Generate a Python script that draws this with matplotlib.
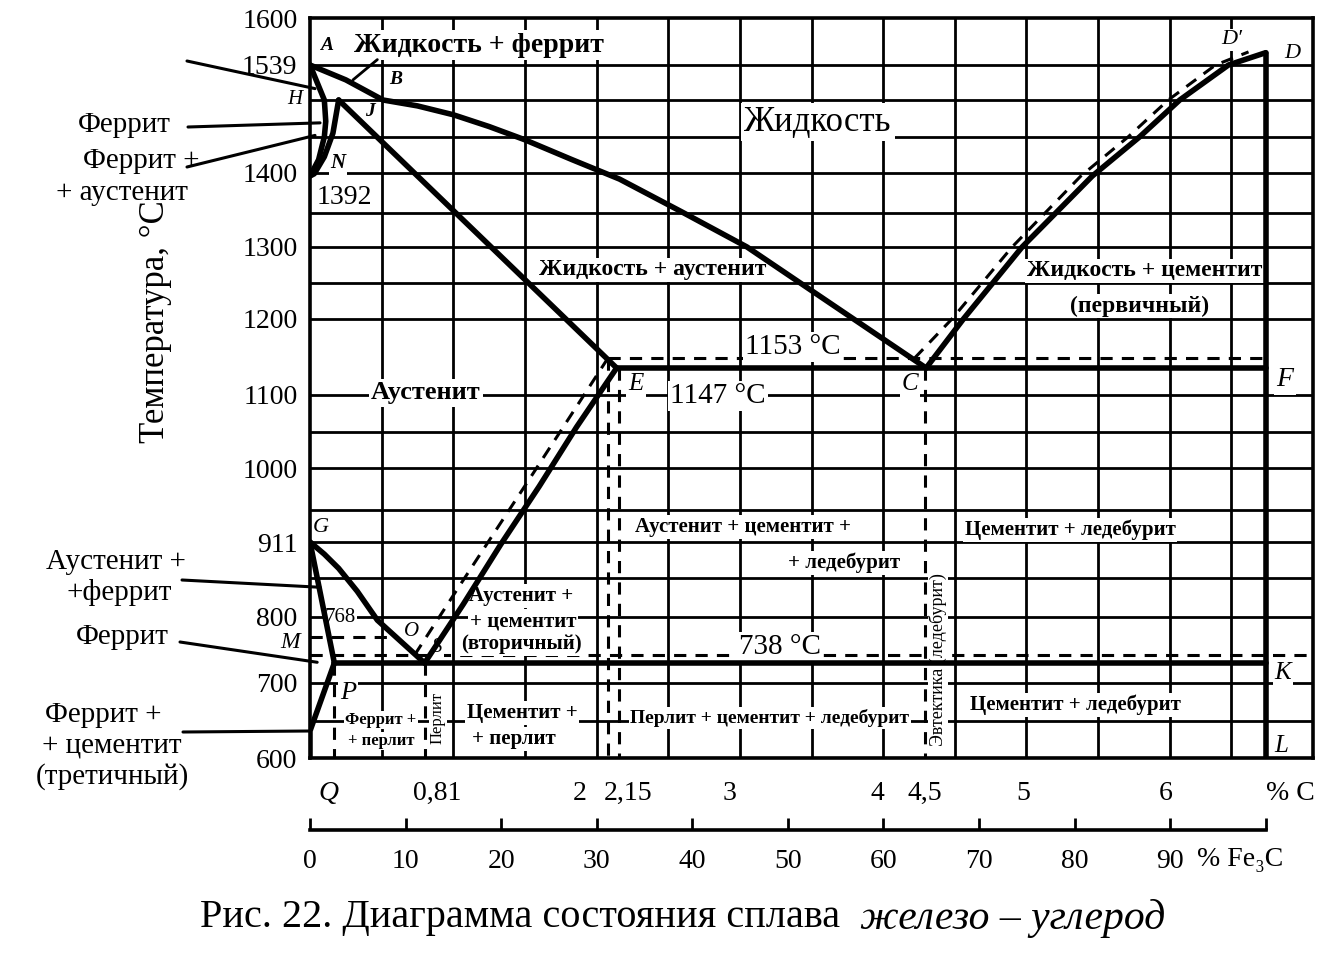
import numpy as np
import matplotlib.pyplot as plt

plt.rcParams['font.family'] = ['Liberation Serif', 'DejaVu Serif']

# drawn height of each labelled temperature (the grid is not uniform)
t_knots = [600, 700, 727, 738, 768, 800, 911, 1000, 1100, 1147, 1153, 1200,
           1300, 1392, 1400, 1499, 1539, 1600]
h_knots = [0, 75, 95, 103, 121, 141, 216, 290, 363, 390, 400, 439,
           511, 582, 585, 658, 693, 740]

y_ticks = [600, 700, 800, 911, 1000, 1100, 1200, 1300, 1400, 1539, 1600]
y_tick_labels = ['600', '700', '800', '911', '1000', '1100', '1200', '1300',
                 '1400', '1539', '1600']

grid_t = [650, 700, 800, 858, 911, 950, 1000, 1050, 1100, 1200, 1250, 1300,
          1344, 1400, 1449, 1499, 1539]
grid_c = [0.5, 1.0, 1.5, 2.0, 2.5, 3.0, 3.5, 4.0, 4.5, 5.0, 5.5, 6.0, 6.43]

# phase boundaries (%C, T)
abc_c = [0, 0.25, 0.51, 0.75, 1.0, 1.25, 1.5, 1.83, 2.16, 2.6, 3.05, 4.3]
abc_t = [1539, 1522, 1499, 1491, 1479, 1463, 1445, 1418, 1388, 1345, 1300, 1147]
cd_c = [4.3, 4.56, 4.97, 5.46, 5.79, 6.07, 6.41, 6.67]
cd_t = [1147, 1200, 1300, 1392, 1449, 1499, 1539, 1555]
cd2_c = [4.22, 4.48, 4.9, 5.38, 5.71, 5.99, 6.32, 6.55]
cd2_t = [1153, 1200, 1300, 1392, 1449, 1499, 1539, 1556]
ahn_c = [0, 0.06, 0.1, 0.11, 0.1, 0.06, 0]
ahn_t = [1539, 1515, 1499, 1470, 1449, 1418, 1392]
jn_c = [0.2, 0.16, 0.1, 0.03, 0]
jn_t = [1499, 1454, 1422, 1398, 1392]
je_c = [0.2, 2.14]
je_t = [1499, 1147]
ecf_c = [2.14, 6.67]
ecf_t = [1147, 1147]
es_c = [2.14, 1.86, 1.6, 1.33, 1.07, 0.8]
es_t = [1147, 1056, 978, 907, 819, 727]
es2_c = [2.08, 1.81, 1.54, 1.27, 1.0, 0.73]
es2_t = [1153, 1069, 989, 918, 832, 738]
gos_c = [0, 0.1, 0.2, 0.33, 0.47, 0.8]
gos_t = [911, 893, 872, 838, 795, 727]
gp_c = [0, 0.17]
gp_t = [911, 727]
pq_c = [0.17, 0, 0]
pq_t = [727, 636, 600]
psk_c = [0.17, 6.67]
psk_t = [727, 727]
dl_c = [6.67, 6.67]
dl_t = [1555, 600]

# dashed lines
h_dash = [(2.08, 6.67, 1153), (0, 7.0, 738), (0, 0.58, 768)]
v_dash = [(0.17, 727), (0.8, 727), (2.08, 1153), (2.16, 1147), (4.29, 1147)]

c_labels = ['Q', '0,81', '2', '2,15', '3', '4', '4,5', '5', '6', '% C']
c_label_at = [0.13, 0.89, 1.88, 2.22, 2.93, 3.96, 4.29, 4.98, 5.97, 6.84]
fe3c_ticks = list(range(0, 101, 10))

W, H = 1344, 956
fig = plt.figure(figsize=(W / 100, H / 100), dpi=100)


def fp(x, y):
    return x / W, 1 - y / H


def fwd(t):
    return np.interp(t, t_knots, h_knots)


def inv(h):
    return np.interp(h, h_knots, t_knots)


x0, x1, y0, y1 = 310, 1313, 18, 758
ax = fig.add_axes([x0 / W, 1 - y1 / H, (x1 - x0) / W, (y1 - y0) / H])
ax.set_yscale('function', functions=(fwd, inv))
ax.set_xlim(0, 7.0)
ax.set_ylim(600, 1600)
ax.set_xticks([])
ax.set_yticks(y_ticks)
ax.set_yticklabels(y_tick_labels)
ax.yaxis.set_minor_locator(plt.NullLocator())
ax.tick_params(axis='y', length=0, pad=9, labelsize=20)
for s in ax.spines.values():
    s.set_linewidth(2.6)

for t in grid_t:
    ax.axhline(t, color='black', lw=2.0, zorder=1)
for c in grid_c:
    ax.axvline(c, color='black', lw=2.0, zorder=1)

dash = (0, (4, 3))
for a, b, t in h_dash:
    ax.plot([a, b], [t, t], color='black', lw=2.2, ls=dash, zorder=1.5)
for c, t in v_dash:
    ax.plot([c, c], [t, 600], color='black', lw=2.2, ls=dash, zorder=1.5)
ax.plot(cd2_c, cd2_t, color='black', lw=2.2, ls=dash, zorder=1.5)
ax.plot(es2_c, es2_t, color='black', lw=2.2, ls=dash, zorder=1.5)

for xs, ts in [(abc_c, abc_t), (cd_c, cd_t), (ahn_c, ahn_t), (jn_c, jn_t),
               (je_c, je_t), (ecf_c, ecf_t), (es_c, es_t), (gos_c, gos_t),
               (gp_c, gp_t), (pq_c, pq_t), (psk_c, psk_t), (dl_c, dl_t)]:
    ax.plot(xs, ts, color='black', lw=4, solid_joinstyle='round',
            solid_capstyle='round', zorder=3)

box = dict(boxstyle='square,pad=0.08', fc='white', ec='none')


def label(s, x, y, size, style='normal', weight='normal', rot=0, bg=True):
    ax.text(*fp(x, y), s, transform=fig.transFigure, ha='center', va='center',
            fontsize=size, fontstyle=style, fontweight=weight, rotation=rot,
            bbox=box if bg else None, zorder=2.5)


label('A', 327, 45, 14, 'italic', 'bold')
label('Жидкость + феррит', 479, 45, 20, weight='bold')
label('B', 396, 80, 14, 'italic', 'bold')
label('J', 370, 112, 14, 'italic', 'bold')
label('N', 338, 163, 15, 'italic', 'bold')
label('1392', 344, 197, 20)
label('Жидкость', 818, 122, 25)
label('Жидкость + аустенит', 653, 270, 17, weight='bold')
label('1153 °C', 793, 347, 21)
label('Аустенит', 426, 393, 19, weight='bold')
label('E', 636, 384, 18, 'italic')
label('1147 °C', 718, 396, 21)
label('C', 910, 384, 18, 'italic')
label('Жидкость + цементит', 1145, 271, 17, weight='bold')
label('(первичный)', 1140, 306, 17, weight='bold')
label('F', 1285, 380, 20, 'italic')
label('D′', 1232, 40, 16, 'italic')
label('D', 1292, 53, 16, 'italic')
label('G', 321, 527, 16, 'italic')
label('768', 340, 617, 15)
label('O', 412, 632, 15, 'italic')
label('S', 437, 648, 15, 'italic')
label('P', 348, 693, 19, 'italic')
label('Феррит +', 381, 720, 12, weight='bold')
label('+ перлит', 381, 741, 12, weight='bold')
label('Перлит', 438, 718, 12, rot=90)
label('Аустенит +', 521, 596, 15, weight='bold')
label('+ цементит', 523, 621, 15, weight='bold')
label('(вторичный)', 521, 644, 15, weight='bold')
label('Цементит +', 522, 713, 15, weight='bold')
label('+ перлит', 514, 739, 15, weight='bold')
label('Аустенит + цементит +', 743, 527, 15, weight='bold')
label('+ ледебурит', 844, 563, 15, weight='bold')
label('738 °C', 780, 647, 21)
label('Перлит + цементит + ледебурит', 770, 718, 14, weight='bold')
label('Эвтектика (ледебурит)', 938, 660, 13, rot=90)
label('Цементит + ледебурит', 1070, 530, 15, weight='bold')
label('Цементит + ледебурит', 1075, 705, 15, weight='bold')
label('K', 1283, 673, 18, 'italic')
label('L', 1281, 746, 18, 'italic')

# short leader for the liquid + ferrite field
ax.annotate('', xy=(0.30, 1522), xytext=(0.47, 1546),
            arrowprops=dict(arrowstyle='-', lw=2, shrinkA=0, shrinkB=0))

# outside captions with leader lines
left_notes = [
    (['Феррит'], [(124, 125)], (188, 127), (0.07, 1468)),
    (['Феррит +', '+ аустенит'], [(141, 161), (122, 193)], (187, 167), (0.035, 1451)),
    (['Аустенит +', '+феррит'], [(116, 562), (119, 592)], (182, 580), (0.07, 844)),
    (['Феррит'], [(122, 637)], (180, 642), (0.05, 728)),
    (['Феррит +', '+ цементит', '(третичный)'], [(103, 715), (112, 746), (112, 777)],
     (183, 732), (0.0, 636)),
]
for lines, pos, start, target in left_notes:
    for s, (px, py) in zip(lines, pos):
        fig.text(*fp(px, py), s, ha='center', va='center', fontsize=21)
    ax.annotate('', xy=target, xytext=fp(*start), textcoords='figure fraction',
                arrowprops=dict(arrowstyle='-', lw=2.2, shrinkA=0, shrinkB=0),
                annotation_clip=False)
ax.annotate('', xy=(0.035, 1512), xytext=fp(187, 61), textcoords='figure fraction',
            arrowprops=dict(arrowstyle='-', lw=2.2, shrinkA=0, shrinkB=0),
            annotation_clip=False)

fig.text(*fp(295, 100), 'H', ha='center', va='center', fontsize=15, fontstyle='italic')
fig.text(*fp(290, 643), 'M', ha='center', va='center', fontsize=17, fontstyle='italic')
fig.text(*fp(155, 322), 'Температура, °С', ha='center', va='center',
         fontsize=25, rotation=90)

# %C labels under the diagram
for s, c in zip(c_labels, c_label_at):
    ax.text(c, (y1 - 793) / (y1 - y0), s, transform=ax.get_xaxis_transform(),
            ha='center', va='center', fontsize=20,
            fontstyle='italic' if s == 'Q' else 'normal')

# second scale: %Fe3C
ax2 = fig.add_axes([x0 / W, 1 - 830 / H, (x1 - x0) / W, 0.0001])
ax2.set_xlim(0, 7.0 / 6.67 * 100)
ax2.patch.set_visible(False)
ax2.set_yticks([])
for side in ['top', 'left', 'right']:
    ax2.spines[side].set_visible(False)
ax2.spines['bottom'].set_bounds(0, 100)
ax2.spines['bottom'].set_linewidth(2.6)
ax2.set_xticks(fe3c_ticks)
ax2.set_xticklabels([str(v) for v in fe3c_ticks[:-1]] + [''])
ax2.tick_params(axis='x', direction='in', length=9, width=2, pad=14, labelsize=20)
fig.text(*fp(1240, 860), '% Fe₃C', ha='center', va='center', fontsize=20)

fig.text(*fp(200, 918), 'Рис. 22. Диаграмма состояния сплава', ha='left',
         va='center', fontsize=29)
fig.text(*fp(860, 918), 'железо – углерод', ha='left', va='center',
         fontsize=30, fontstyle='italic')

fig.savefig('out.png', dpi=100)
